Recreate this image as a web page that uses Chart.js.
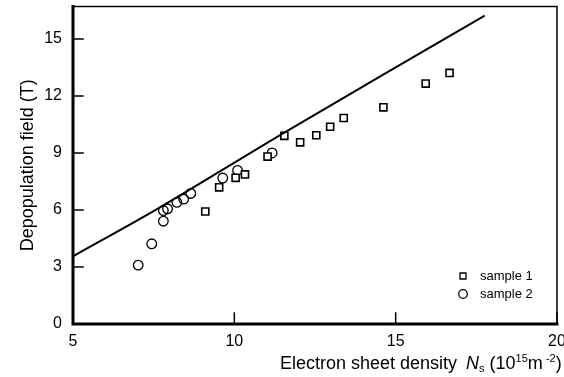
<!DOCTYPE html>
<html>
<head>
<meta charset="utf-8">
<script src="https://cdn.jsdelivr.net/npm/chart.js@4/dist/chart.umd.min.js"></script>
<style>
  body { margin: 0; background: #fff; }
  #wrap { width: 564px; height: 377px; }
</style>
</head>
<body>
<div id="wrap"><canvas id="depopChart"></canvas></div>
<script>
// fitted curve
const lineX = [5, 7.67, 11.55, 17.76];
const lineY = [3.56, 6.11, 10.07, 16.23];

// sample 1 (squares)
const s1X = [9.1, 9.53, 10.04, 10.33, 11.03, 11.55, 12.04, 12.54, 12.97, 13.39, 14.62, 15.93, 16.67];
const s1Y = [5.92, 7.19, 7.69, 7.87, 8.81, 9.9, 9.56, 9.93, 10.38, 10.84, 11.4, 12.65, 13.21];

// sample 2 (circles)
const s2X = [7.02, 7.44, 7.8, 7.8, 7.93, 8.22, 8.43, 8.65, 9.64, 10.1, 11.17];
const s2Y = [3.1, 4.22, 5.41, 5.97, 6.06, 6.4, 6.57, 6.87, 7.68, 8.08, 9.0];

const xTicks = [5, 10, 15, 20];
const yTicks = [0, 3, 6, 9, 12, 15];
const seriesNames = ['sample 1', 'sample 2'];

const FONT = '"Liberation Sans", Arial, sans-serif';

function toPoints(xs, ys) {
    return xs.map(function(x, i) { return { x: x, y: ys[i] }; });
}

// frame, inward ticks, legend and the x axis title with sub/superscripts
const decorPlugin = {
    id: 'decor',
    afterDraw: function(chart) {
        const ctx = chart.ctx;
        const a = chart.chartArea;
        const xs = chart.scales.x;
        const ys = chart.scales.y;
        ctx.save();
        ctx.strokeStyle = '#000';
        ctx.lineCap = 'square';

        // thin top / right
        ctx.lineWidth = 1.5;
        ctx.beginPath();
        ctx.moveTo(a.left, a.top);
        ctx.lineTo(a.right, a.top);
        ctx.lineTo(a.right, a.bottom);
        ctx.stroke();

        // thick left / bottom
        ctx.lineWidth = 3;
        ctx.beginPath();
        ctx.moveTo(a.left, a.top);
        ctx.lineTo(a.left, a.bottom);
        ctx.lineTo(a.right, a.bottom);
        ctx.stroke();

        // inward ticks
        ctx.lineWidth = 1.5;
        ctx.beginPath();
        yTicks.forEach(function(v) {
            if (v === 0) return;
            const py = ys.getPixelForValue(v);
            ctx.moveTo(a.left, py);
            ctx.lineTo(a.left + 10, py);
        });
        xTicks.forEach(function(v) {
            if (v === 5) return;
            const px = xs.getPixelForValue(v);
            ctx.moveTo(px, a.bottom);
            ctx.lineTo(px, a.bottom - 11);
        });
        ctx.stroke();

        // legend
        const lx = 463, ly = [276, 294];
        ctx.lineWidth = 1.3;
        ctx.fillStyle = '#fff';
        ctx.beginPath();
        ctx.rect(lx - 3, ly[0] - 3, 6, 6);
        ctx.fill();
        ctx.stroke();
        ctx.beginPath();
        ctx.arc(lx, ly[1], 4.3, 0, Math.PI * 2);
        ctx.fill();
        ctx.stroke();
        ctx.fillStyle = '#000';
        ctx.font = '13px ' + FONT;
        ctx.textBaseline = 'middle';
        ctx.textAlign = 'left';
        ctx.fillText(seriesNames[0], 480, ly[0]);
        ctx.fillText(seriesNames[1], 480, ly[1]);

        // x axis title
        const parts = [
            { t: 'Electron sheet density ', f: '18px ' + FONT, dy: 0, gap: 4 },
            { t: 'N', f: 'italic 18px ' + FONT, dy: 0 },
            { t: 's', f: '11px ' + FONT, dy: 3 },
            { t: ' (10', f: '18px ' + FONT, dy: 0 },
            { t: '15', f: '11px ' + FONT, dy: -7 },
            { t: 'm', f: '18px ' + FONT, dy: 0 },
            { t: ' -2', f: '11px ' + FONT, dy: -7 },
            { t: ')', f: '18px ' + FONT, dy: 0 }
        ];
        ctx.textBaseline = 'alphabetic';
        let cx = 280;
        parts.forEach(function(p) {
            ctx.font = p.f;
            ctx.fillText(p.t, cx, 369 + p.dy);
            cx += ctx.measureText(p.t).width + (p.gap || 0);
        });
        ctx.restore();
    }
};

const ctx = document.getElementById('depopChart').getContext('2d');

new Chart(ctx, {
    type: 'scatter',
    data: {
        datasets: [
            {
                type: 'line',
                label: 'fit',
                data: toPoints(lineX, lineY),
                borderColor: '#000',
                borderWidth: 2,
                pointRadius: 0,
                tension: 0.3,
                fill: false
            },
            {
                label: seriesNames[0],
                data: toPoints(s1X, s1Y),
                pointStyle: 'rect',
                pointRadius: 5,
                pointBorderWidth: 1.6,
                pointBorderColor: '#000',
                pointBackgroundColor: '#fff'
            },
            {
                label: seriesNames[1],
                data: toPoints(s2X, s2Y),
                pointStyle: 'circle',
                pointRadius: 4.8,
                pointBorderWidth: 1.3,
                pointBorderColor: '#000',
                pointBackgroundColor: 'rgba(255,255,255,0)'
            }
        ]
    },
    options: {
        responsive: true,
        maintainAspectRatio: false,
        animation: false,
        layout: { padding: { top: 5, right: 7, left: 0, bottom: 0 } },
        plugins: {
            legend: { display: false },
            tooltip: { enabled: false }
        },
        scales: {
            x: {
                type: 'linear',
                min: 5,
                max: 20,
                afterBuildTicks: function(scale) {
                    scale.ticks = xTicks.map(function(v) { return { value: v }; });
                },
                afterFit: function(scale) {
                    scale.height = 53;
                    scale.paddingLeft = 0;
                    scale.paddingRight = 0;
                },
                grid: { display: false, drawTicks: false },
                border: { display: false },
                ticks: {
                    padding: 8,
                    color: '#000',
                    font: { family: FONT, size: 16 }
                }
            },
            y: {
                type: 'linear',
                min: 0,
                max: 16.7,
                afterBuildTicks: function(scale) {
                    scale.ticks = yTicks.map(function(v) { return { value: v }; });
                },
                afterFit: function(scale) {
                    scale.width = 73;
                    scale.paddingTop = 0;
                    scale.paddingBottom = 0;
                },
                grid: { display: false, drawTicks: false },
                border: { display: false },
                title: {
                    display: true,
                    text: 'Depopulation field (T)',
                    color: '#000',
                    font: { family: FONT, size: 18 },
                    padding: { top: 17, bottom: 0 }
                },
                ticks: {
                    padding: 11,
                    color: '#000',
                    font: { family: FONT, size: 16 }
                }
            }
        }
    },
    plugins: [decorPlugin]
});
</script>
</body>
</html>
